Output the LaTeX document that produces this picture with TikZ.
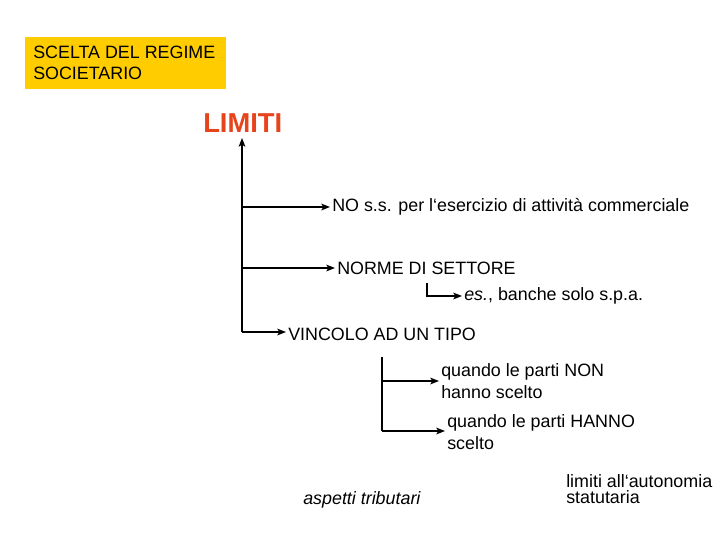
\documentclass[tikz,border=0pt]{standalone}
\usepackage{fontspec}
\setmainfont{Liberation Sans}
\usetikzlibrary{arrows.meta}
\definecolor{boxyellow}{HTML}{FFCC00}
\definecolor{limred}{HTML}{E8441C}
\begin{document}
\begin{tikzpicture}[x=0.75pt,y=-0.75pt,
  txt/.style={anchor=west,inner sep=0pt,align=left,font=\fontsize{13.4pt}{16pt}\selectfont},
  conn/.style={line width=1.3pt,-{Stealth[length=6.5pt,width=5pt,inset=1.5pt]},shorten >=1.5pt},
  plain/.style={line width=1.3pt}]
\useasboundingbox (0,0) rectangle (720,540);
\node[fill=boxyellow,minimum width=201*0.75pt,minimum height=52*0.75pt,inner sep=0pt] (box) at (125.5,63) {};
\node[txt] (title) at (33,63) {SCELTA DEL REGIME\\SOCIETARIO};
\node[anchor=west,inner sep=0pt,text=limred,font=\fontsize{20.5pt}{24pt}\selectfont\bfseries] (limiti) at (203,123) {LIMITI};
\coordinate (tb) at (242,332);
\coordinate (tt) at (242,138);
\coordinate (j1) at (242,207);
\coordinate (j2) at (242,268);
\node[txt] (no) at (332,207) {NO s.s. per l‘esercizio di attività commerciale};
\node[txt] (norme) at (337,268) {NORME DI SETTORE};
\node[txt] (es) at (464,296) {\textit{es.}, banche solo s.p.a.};
\node[txt] (vinc) at (288,334) {VINCOLO AD UN TIPO};
\node[txt] (q1) at (441,381) {quando le parti NON\\hanno scelto};
\node[txt] (q2) at (447,432) {quando le parti HANNO\\scelto};
\node[txt] (asp) at (303,500) {\textit{aspetti tributari}};
\node[anchor=west,inner sep=0pt,align=left,font=\fontsize{13.4pt}{12pt}\selectfont] (lim2) at (566,489) {limiti all‘autonomia\\statutaria};
\draw[conn,shorten >=0pt] (tb) -- (tt);
\draw[conn] (j1) -- (no.west);
\draw[conn] (j2) -- (norme.west);
\draw[conn] (tb) -- (vinc.west |- tb);
\coordinate (e1) at (427,283);
\draw[conn] (e1) |- (es.west);
\coordinate (b1) at (382,357);
\coordinate (b2) at (382,431);
\draw[plain] (b1) -- (b2);
\draw[conn] (b1 |- q1.west) -- (q1.west);
\draw[conn] (b2) -- (q2.west |- b2);
\end{tikzpicture}
\end{document}
